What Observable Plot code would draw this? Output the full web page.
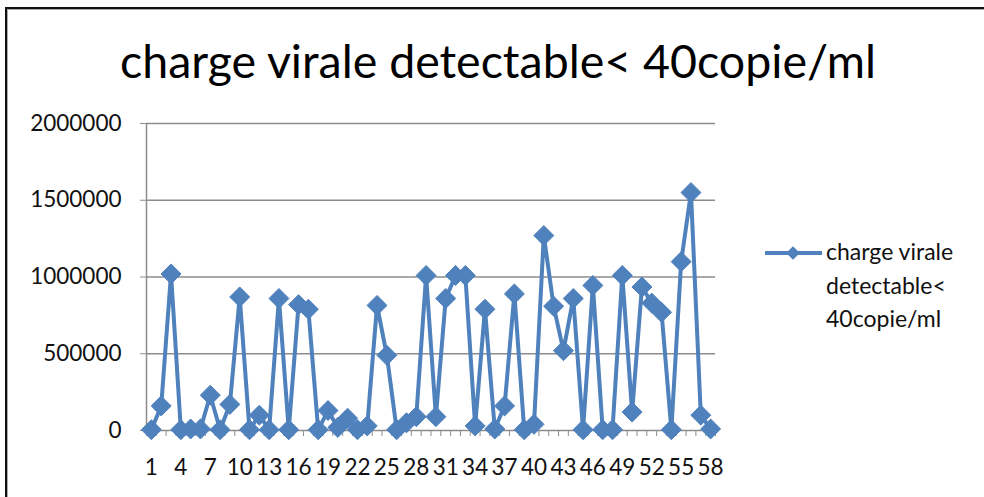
<!DOCTYPE html>
<html><head><meta charset="utf-8">
<script src="https://cdn.jsdelivr.net/npm/d3@7"></script>
<script src="https://cdn.jsdelivr.net/npm/@observablehq/plot@0.6"></script>
<style>
body{margin:0;background:#fff;}
#wrap{position:relative;width:984px;height:497px;overflow:hidden;font-family:Lato,sans-serif;background:#fff;}
#frame{position:absolute;left:5px;top:7px;width:1000px;height:520px;border-left:2px solid #111;border-top:2px solid #111;box-shadow:inset 1px 1px 0 #aaa;}
#title{position:absolute;left:0;width:996px;top:37px;text-align:center;font-size:46.5px;line-height:46px;color:#000;white-space:nowrap;}
#chart{position:absolute;left:0;top:0;}
#legend{position:absolute;left:760px;top:236px;}
#legtext{position:absolute;left:826px;top:235px;font-size:23px;line-height:33.5px;color:#111;}
</style></head>
<body>
<div id="wrap">
  <div id="frame"></div>
  <div id="chart"></div>
  <div id="title"></div>
  <svg id="legend" width="70" height="34"></svg>
  <div id="legtext"></div>
</div>
<script>
const seriesName = "charge virale detectable< 40copie/ml";
const titleText = "charge virale detectable< 40copie/ml";
const legendLines = ["charge virale", "detectable<", "40copie/ml"];
const categories = d3.range(1, 59);
const values = [
  5000, 160000, 1020000, 5000, 10000, 10000, 230000, 5000, 170000, 870000,
  5000, 100000, 5000, 860000, 5000, 820000, 790000, 5000, 130000, 20000,
  80000, 5000, 30000, 815000, 490000, 5000, 50000, 90000, 1010000, 90000,
  860000, 1010000, 1010000, 30000, 790000, 10000, 160000, 890000, 5000, 40000,
  1270000, 810000, 520000, 860000, 5000, 945000, 5000, 5000, 1010000, 120000,
  935000, 830000, 770000, 5000, 1100000, 1550000, 100000, 10000
];
const yTicks = [0, 500000, 1000000, 1500000, 2000000];
const xTickLabels = d3.range(1, 59, 3);

const data = categories.map((c, i) => ({cat: c, value: values[i]}));
const blue = "#4F81BD";
const grid = "#8c8c8c";

const chart = Plot.plot({
  width: 984, height: 497,
  marginLeft: 146, marginRight: 269, marginTop: 123, marginBottom: 67,
  style: {fontFamily: "Lato, sans-serif", fontSize: "22.5px", color: "#000", background: "transparent"},
  x: {type: "linear", domain: [0.5, 58.5]},
  y: {domain: [0, 2000000]},
  marks: [
    Plot.ruleY(yTicks, {stroke: grid, strokeWidth: 1.5}),
    Plot.ruleX([0.5], {stroke: grid, strokeWidth: 1.5}),
    Plot.axisY({ticks: yTicks, tickSize: 6, tickPadding: 19, tickFormat: d3.format("d"), stroke: grid, fill: "#111", label: null}),
    Plot.axisX({ticks: d3.range(0.5, 59, 1), tickSize: 6, tickFormat: () => "", stroke: grid, label: null}),
    Plot.axisX({ticks: xTickLabels, tickSize: 0, tickPadding: 29, tickFormat: d3.format("d"), fill: "#111", label: null}),
    Plot.line(data, {x: "cat", y: "value", stroke: blue, strokeWidth: 4, strokeLinejoin: "round"}),
    Plot.dot(data, {x: "cat", y: "value", symbol: "diamond2", r: 9, fill: blue, stroke: blue, strokeWidth: 1})
  ]
});
document.getElementById("chart").appendChild(chart);
document.getElementById("title").textContent = titleText;

const leg = d3.select("#legend");
leg.append("line").attr("x1", 5).attr("x2", 62).attr("y1", 17).attr("y2", 17)
  .attr("stroke", blue).attr("stroke-width", 4);
leg.append("path").attr("d", d3.symbol(d3.symbolDiamond2, 120)()).attr("transform", "translate(33,17)").attr("fill", blue);
document.getElementById("legtext").innerHTML = legendLines.join("<br>");
</script>
</body></html>
